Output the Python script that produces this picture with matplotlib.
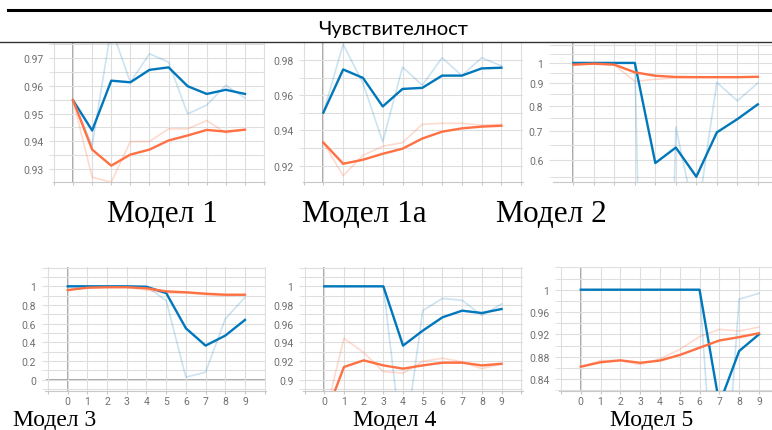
import matplotlib
matplotlib.use("Agg")
import matplotlib.pyplot as plt
from matplotlib.lines import Line2D
from matplotlib.ticker import MultipleLocator, FixedLocator, FuncFormatter, NullFormatter

W, H = 772, 431
BLUE = "#0077bb"
ORANGE = "#ff7043"
GRID = "#dedede"
AXIS = "#a0a0a0"
TICK_TXT = "#707070"

steps = list(range(10))
title = "Чувствителност"
model_names = ["Модел 1", "Модел 1a", "Модел 2", "Модел 3", "Модел 4", "Модел 5"]

# Модел 1
m1_blue_raw = [0.9548, 0.9385, 0.9810, 0.9613, 0.9716, 0.9686, 0.9499, 0.9531, 0.9602, 0.9556]
m1_blue = [0.9548, 0.9439, 0.9619, 0.9613, 0.9658, 0.9667, 0.9599, 0.9571, 0.9586, 0.9571]
m1_orange_raw = [0.9548, 0.9270, 0.9252, 0.9399, 0.9399, 0.9445, 0.9445, 0.9475, 0.9430, 0.9442]
m1_orange = [0.9548, 0.9370, 0.9312, 0.9352, 0.9370, 0.9403, 0.9421, 0.9441, 0.9435, 0.9442]

# Модел 1a
m1a_blue_raw = [0.9502, 0.9892, 0.9670, 0.9335, 0.9762, 0.9658, 0.9815, 0.9713, 0.9815, 0.9768]
m1a_blue = [0.9502, 0.9748, 0.9700, 0.9537, 0.9637, 0.9643, 0.9713, 0.9713, 0.9754, 0.9758]
m1a_orange_raw = [0.9331, 0.9142, 0.9258, 0.9310, 0.9331, 0.9435, 0.9441, 0.9441, 0.9431, 0.9435]
m1a_orange = [0.9331, 0.9210, 0.9233, 0.9267, 0.9296, 0.9354, 0.9393, 0.9412, 0.9422, 0.9427]

# Модел 2 (log scale)
m2_blue_raw = [1.0, 1.0, 1.0, 1.0, 0.01, 0.715, 0.43, 0.903, 0.82, 0.90]
m2_blue = [1.0, 1.0, 1.0, 1.0, 0.592, 0.642, 0.551, 0.695, 0.745, 0.805]
m2_orange_raw = [0.991, 0.996, 0.990, 0.908, 0.918, 0.925, 0.928, 0.928, 0.928, 0.929]
m2_orange = [0.991, 0.996, 0.991, 0.952, 0.935, 0.929, 0.928, 0.928, 0.928, 0.930]

# Модел 3
m3_blue_raw = [1.0, 1.0, 1.0, 1.0, 1.0, 0.846, 0.027, 0.080, 0.65, 0.882]
m3_blue = [1.0, 1.0, 1.0, 1.0, 0.995, 0.928, 0.551, 0.365, 0.472, 0.640]
m3_orange_raw = [0.96, 0.99, 0.99, 0.99, 0.96, 0.925, 0.93, 0.91, 0.90, 0.91]
m3_orange = [0.96, 0.985, 0.99, 0.99, 0.979, 0.946, 0.936, 0.921, 0.91, 0.91]

# Модел 4
m4_blue_raw = [1.0, 1.0, 1.0, 1.0, 0.82, 0.974, 0.987, 0.985, 0.969, 0.981]
m4_blue = [1.0, 1.0, 1.0, 1.0, 0.9365, 0.9525, 0.9668, 0.9739, 0.9714, 0.9757]
m4_orange_raw = [0.858, 0.9444, 0.929, 0.9087, 0.907, 0.9196, 0.923, 0.919, 0.9118, 0.917]
m4_orange = [0.858, 0.9136, 0.9207, 0.9153, 0.9118, 0.9153, 0.9182, 0.9182, 0.9153, 0.917]

# Модел 5
m5_blue_raw = [1.0, 1.0, 1.0, 1.0, 1.0, 1.0, 1.0, 0.49, 0.983, 0.9935]
m5_blue = [1.0, 1.0, 1.0, 1.0, 1.0, 1.0, 1.0, 0.795, 0.890, 0.920]
m5_orange_raw = [0.862, 0.873, 0.873, 0.866, 0.876, 0.893, 0.916, 0.929, 0.926, 0.933]
m5_orange = [0.862, 0.870, 0.8734, 0.869, 0.873, 0.883, 0.896, 0.909, 0.915, 0.922]


def panel(box, xlim, ylim, major, minor, series, log=False, xlabels=False, zero=False, ymax_label=1.0):
    l, r, t, b = box
    ax = fig.add_axes([l / W, 1 - b / H, (r - l) / W, (b - t) / H])
    for s in ax.spines.values():
        s.set_visible(False)
    ax.spines["bottom"].set_visible(True)
    ax.spines["bottom"].set_color("#c8c8c8")
    if log:
        ax.set_yscale("log")
        ax.yaxis.set_major_locator(FixedLocator(major))
        ax.yaxis.set_minor_locator(FixedLocator(minor))
        ax.yaxis.set_minor_formatter(NullFormatter())
    else:
        ax.yaxis.set_major_locator(MultipleLocator(major))
        ax.yaxis.set_minor_locator(MultipleLocator(minor))
    # labels close to the cropped top edge are not shown in the screenshot
    ax.yaxis.set_major_formatter(FuncFormatter(
        lambda v, p: f"{round(v, 4):g}" if round(v, 4) <= ymax_label else ""))
    ax.xaxis.set_major_locator(MultipleLocator(1))
    if xlabels:
        ax.xaxis.set_major_formatter(FuncFormatter(lambda v, p: f"{int(round(v))}" if 0 <= round(v) <= 9 else ""))
    else:
        ax.xaxis.set_major_formatter(FuncFormatter(lambda v, p: ""))
    ax.set_xlim(*xlim)
    ax.set_ylim(*ylim)
    ax.grid(True, which="both", axis="y", color=GRID, lw=0.8)
    ax.grid(True, which="major", axis="x", color=GRID, lw=0.8)
    ax.tick_params(axis="y", which="both", length=3, color=GRID, labelcolor=TICK_TXT,
                   labelsize=7.5, pad=4)
    ax.tick_params(axis="x", which="both", length=2.5, color="#c8c8c8", labelcolor=TICK_TXT,
                   labelsize=7.5, pad=1.5)
    for lab in ax.get_yticklabels() + ax.get_xticklabels():
        lab.set_family("Roboto")
    ax.axvline(0, color=AXIS, lw=1.3, zorder=1.5)
    if zero:
        ax.axhline(0, color=AXIS, lw=1.3, zorder=1.5)
    b_raw, b_sm, o_raw, o_sm = series
    ax.plot(steps, b_raw, color=BLUE, lw=1.2, alpha=0.2, zorder=2)
    ax.plot(steps, o_raw, color=ORANGE, lw=1.2, alpha=0.25, zorder=2)
    ax.plot(steps, b_sm, color=BLUE, lw=1.7, zorder=3)
    ax.plot(steps, o_sm, color=ORANGE, lw=1.7, zorder=3)
    return ax


fig = plt.figure(figsize=(W / 100, H / 100), dpi=100)
fig.patch.set_facecolor("white")

panel((53, 265, 44, 183), (-1.05, 10.05), (0.9253, 0.9755), 0.01, 0.005,
      (m1_blue_raw, m1_blue, m1_orange_raw, m1_orange))
panel((303, 523, 44, 183), (-1.03, 10.09), (0.9106, 0.9899), 0.02, 0.01,
      (m1a_blue_raw, m1a_blue, m1a_orange_raw, m1a_orange))
panel((553, 772, 44, 183), (-0.99, 9.69), (0.536, 1.11),
      [0.6, 0.7, 0.8, 0.9, 1.0], [0.55, 0.65, 0.75, 0.85, 0.95, 1.05, 1.1],
      (m2_blue_raw, m2_blue, m2_orange_raw, m2_orange), log=True)
panel((45.5, 266, 268, 391.7), (-1.13, 10.07), (-0.118, 1.207), 0.2, 0.1,
      (m3_blue_raw, m3_blue, m3_orange_raw, m3_orange), xlabels=True, zero=True)
panel((303, 523, 268, 391.7), (-1.08, 10.09), (0.8882, 1.0207), 0.02, 0.01,
      (m4_blue_raw, m4_blue, m4_orange_raw, m4_orange), xlabels=True)
panel((559, 772, 268, 391.7), (-1.10, 9.66), (0.819, 1.0407), 0.04, 0.02,
      (m5_blue_raw, m5_blue, m5_orange_raw, m5_orange), xlabels=True)

# header lines of the table
fig.add_artist(Line2D([8 / W, 1], [1 - 11 / H] * 2, lw=2.2, color="black"))
fig.add_artist(Line2D([0, 1], [1 - 43 / H] * 2, lw=1.0, color="#333333"))
fig.text(393 / W, 1 - 35 / H, title, family="Lato", fontsize=14.5, ha="center", va="baseline")

top_x = [162, 364, 551]
for name, cx in zip(model_names[:3], top_x):
    fig.text(cx / W, 1 - 222 / H, name, family="Liberation Serif", fontsize=22.5,
             ha="center", va="baseline")
bottom_x = [55, 395, 652]
for name, cx in zip(model_names[3:], bottom_x):
    fig.text(cx / W, 1 - 426 / H, name, family="Liberation Serif", fontsize=17,
             ha="center", va="baseline")

fig.savefig("out.png", dpi=100, facecolor="white")
